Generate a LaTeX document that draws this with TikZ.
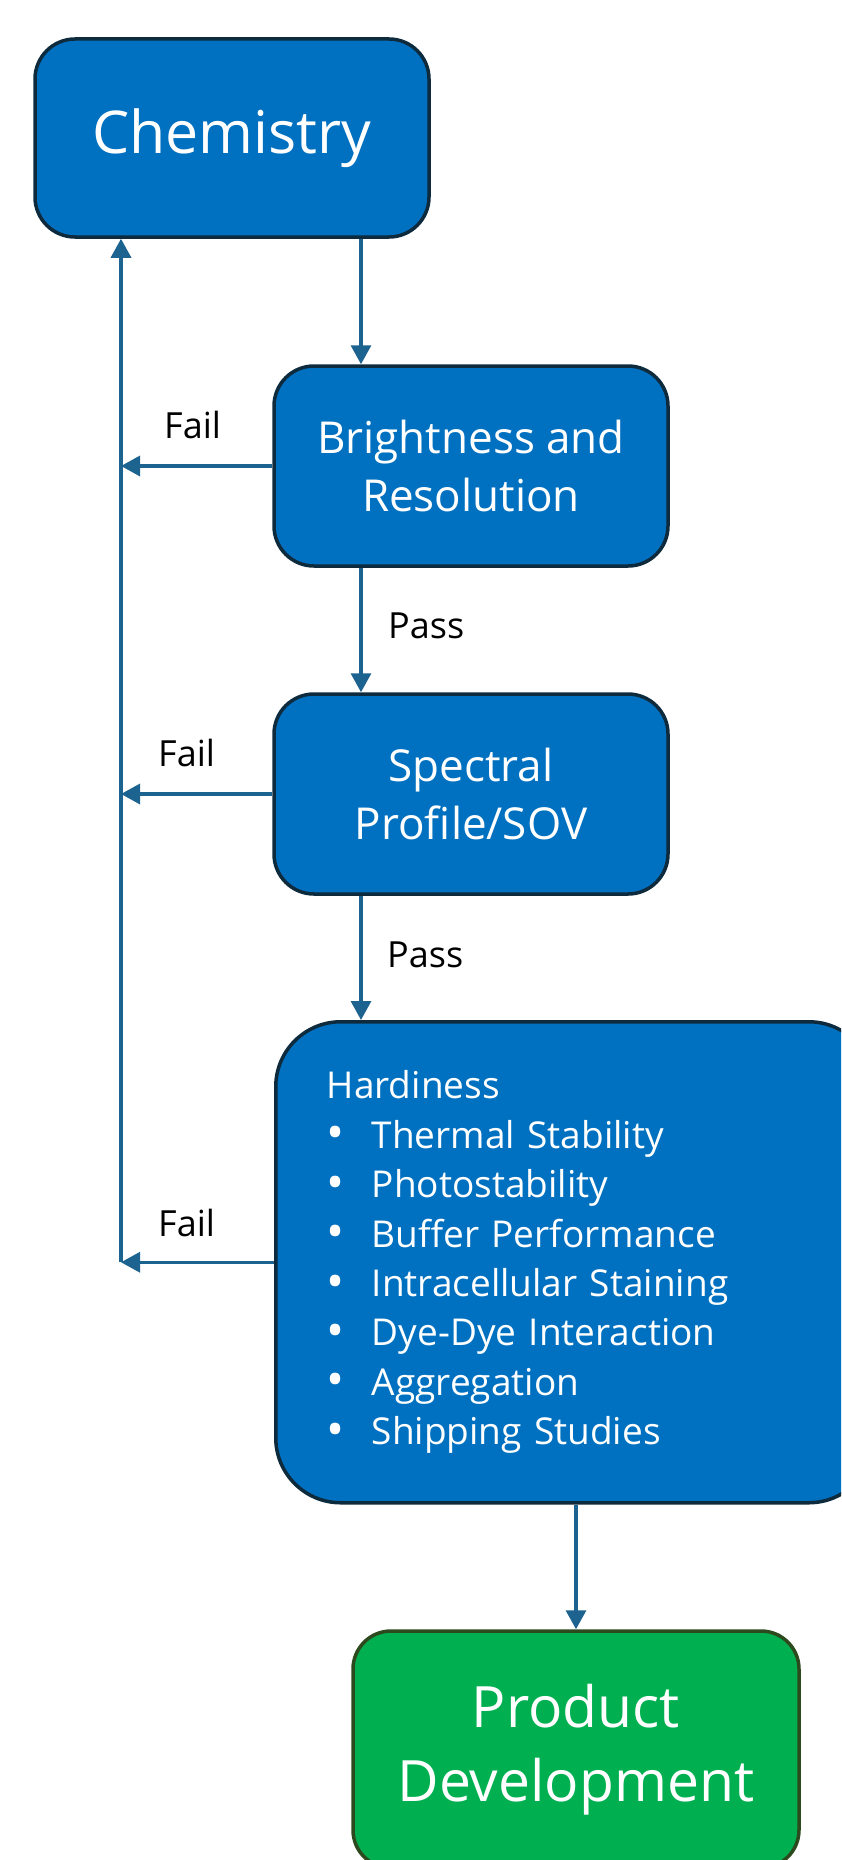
\documentclass[tikz,border=0pt]{standalone}
\usepackage{fontspec}
\setmainfont{Open Sans}
\usetikzlibrary{arrows.meta}
\definecolor{boxblue}{HTML}{0070C0}
\definecolor{boxedge}{HTML}{0E2A3D}
\definecolor{boxgreen}{HTML}{00B050}
\definecolor{greenedge}{HTML}{2D4A1E}
\definecolor{arrowcol}{HTML}{1D6390}
\newcommand{\bul}[1]{\makebox[45pt][l]{\raisebox{-1.5pt}{\fontsize{48}{0}\selectfont •}}#1}
\begin{document}
\begin{tikzpicture}[x=1pt,y=-1pt,
  stepbox/.style={draw=boxedge, line width=3.5pt, fill=boxblue, rounded corners=40pt,
    text=white, align=center, inner sep=0pt},
  arr/.style={draw=arrowcol, line width=3.2pt, -{Triangle[length=19pt,width=20pt]}},
  lbl/.style={text=black, font=\fontsize{36}{43}\selectfont, inner sep=0pt, anchor=base west}]
\useasboundingbox (0,0) rectangle (841,1860);
\clip (0,0) rectangle (841,1860);
\fill[white] (0,0) rectangle (841,1860);

\node[stepbox, minimum width=394pt, minimum height=198pt,
  font=\fontsize{59}{70}\selectfont] (chem) at (232,138) {Chemistry};
\node[stepbox, minimum width=394pt, minimum height=200pt,
  font=\fontsize{44}{58}\selectfont] (bright) at (471,466) {Brightness and\\Resolution};
\node[stepbox, minimum width=394pt, minimum height=200pt,
  font=\fontsize{44}{58}\selectfont] (spec) at (471,794) {Spectral\\Profile/SOV};
\node[stepbox, rounded corners=65pt, minimum height=481pt, text width=496pt,
  inner xsep=51pt, inner ysep=0pt, align=left, anchor=north west,
  font=\fontsize{37}{49.4}\selectfont] (hard) at (274,1020)
  {Hardiness\\
   \bul{Thermal Stability}\\
   \bul{Photostability}\\
   \bul{Buffer Performance}\\
   \bul{Intracellular Staining}\\
   \bul{Dye-Dye Interaction}\\
   \bul{Aggregation}\\
   \bul{Shipping Studies}};
\node[stepbox, fill=boxgreen, draw=greenedge, rounded corners=38pt,
  minimum width=446pt, minimum height=237pt,
  font=\fontsize{57}{74}\selectfont] (prod) at (576,1749.5) {Product\\Development};

\coordinate (cx) at (361,0);
\coordinate (rail) at (121,0);

\draw[arr] (chem.south -| cx) -- (bright.north -| cx);
\draw[arr] (bright.south -| cx) -- (spec.north -| cx);
\draw[arr] (spec.south -| cx) -- (hard.north -| cx);
\draw[arr] (hard.south -| prod.north) -- (prod.north);

\draw[arr] (bright.west) -- (bright.west -| rail);
\draw[arr] (spec.west) -- (spec.west -| rail);
\draw[arr] (hard.west) -- (hard.west -| rail);
\draw[arr] (hard.west -| rail) -- (chem.south -| rail);

\node[lbl] (fail1) at (164,438) {Fail};
\node[lbl] (fail2) at (158,766) {Fail};
\node[lbl] (fail3) at (158,1236) {Fail};
\node[lbl] (pass1) at (388,638) {Pass};
\node[lbl] (pass2) at (387,967) {Pass};
\end{tikzpicture}
\end{document}
